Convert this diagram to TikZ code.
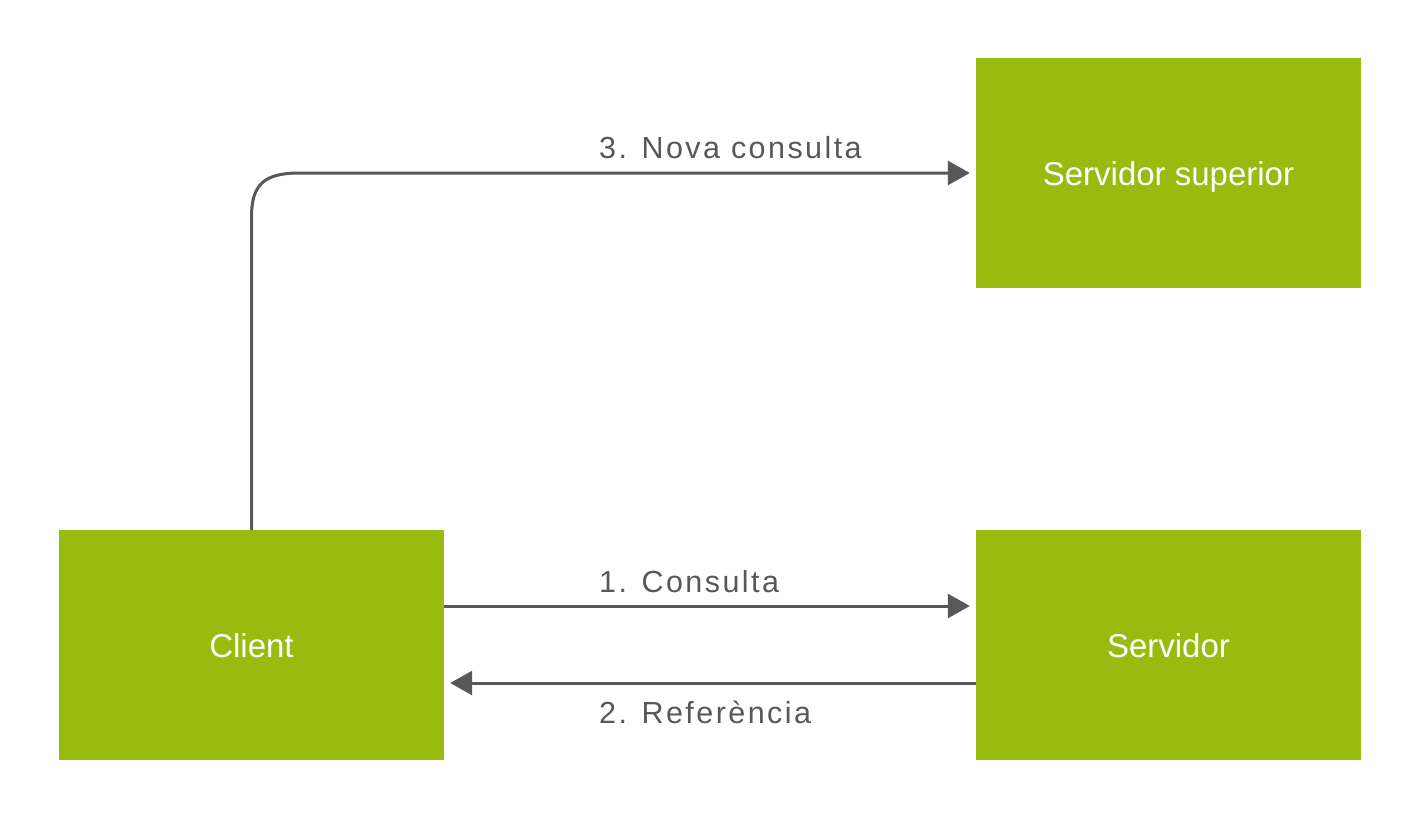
\documentclass[tikz,border=0pt]{standalone}
\usepackage{fontspec}
\setmainfont{Liberation Sans}
\usetikzlibrary{arrows.meta,calc}
\definecolor{boxgreen}{HTML}{97BC0F}
\definecolor{linegray}{HTML}{58585A}
\newfontfamily\labfont[LetterSpace=8]{Liberation Sans}
\tikzset{
  box/.style={fill=boxgreen, draw=none, minimum width=385pt, minimum height=230pt, inner sep=0pt,
    text height=24pt, text depth=0pt,
    text=white, font=\fontsize{33}{36}\selectfont},
  conn/.style={draw=linegray, line width=3pt, -{Triangle[length=22pt,width=24pt]}},
  lab/.style={text=linegray, font=\labfont\fontsize{30.5}{34}\selectfont, anchor=base west, inner sep=0pt}
}
\begin{document}
\begin{tikzpicture}[x=1pt,y=-1pt]
\useasboundingbox (0,0) rectangle (1417,819);
\node[box] (client) at (251.5,645) {Client};
\node[box] (serv) at (1168.5,645) {Servidor};
\node[box] (sup) at (1168.5,173) {Servidor superior};
\draw[conn] ([yshift=39pt]client.east) -- ([yshift=39pt,xshift=-6pt]serv.west);
\draw[conn] ([yshift=-38pt]serv.west) -- ([yshift=-38pt,xshift=6pt]client.east);
\coordinate (corner) at (client.north |- sup.west);
\draw[conn] (client.north) -- ([yshift=-44pt]corner) .. controls ([yshift=-12pt]corner) and ([xshift=12pt]corner) .. ([xshift=48pt]corner) -- ([xshift=-6pt]sup.west);
\node[lab] (l1) at (599,592) {1. Consulta};
\node[lab] (l2) at (599,723) {2. Referència};
\node[lab] (l3) at (599,158) {3. Nova consulta};
\end{tikzpicture}
\end{document}
